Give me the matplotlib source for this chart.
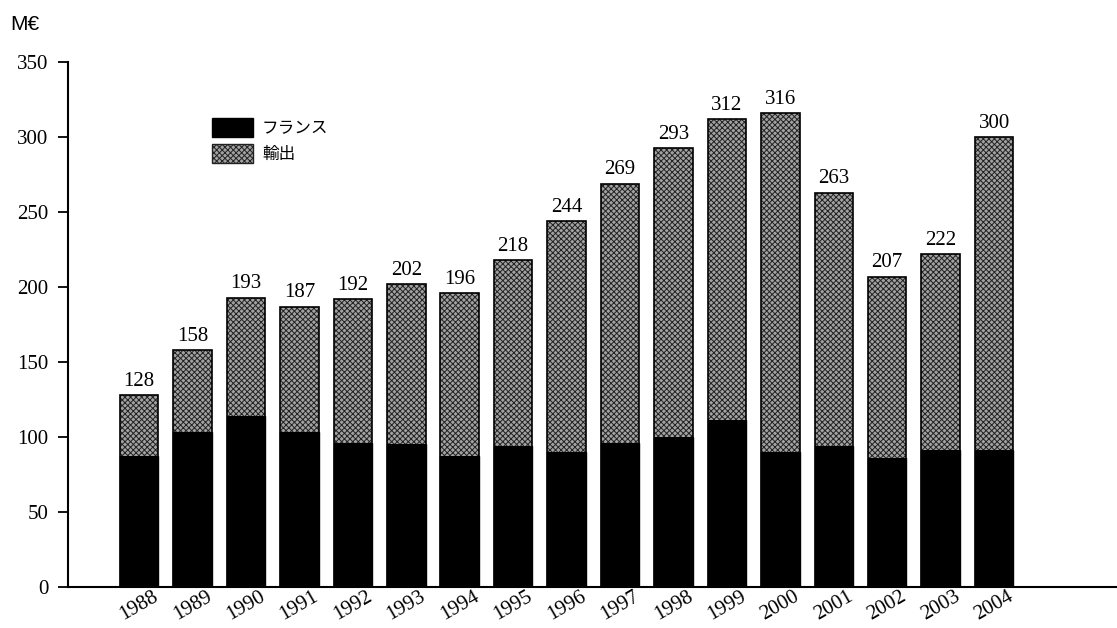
import matplotlib
matplotlib.use("Agg")
import matplotlib.pyplot as plt
from matplotlib.patches import Patch
import matplotlib.transforms as mtransforms
import numpy as np

years = ["1988", "1989", "1990", "1991", "1992", "1993", "1994", "1995", "1996",
         "1997", "1998", "1999", "2000", "2001", "2002", "2003", "2004"]
totals = [128, 158, 193, 187, 192, 202, 196, 218, 244, 269, 293, 312, 316, 263, 207, 222, 300]
france = [87, 103, 114, 103, 96, 95, 87, 94, 90, 96, 100, 111, 90, 94, 86, 91, 91]
export = [t - f for t, f in zip(totals, france)]
yticks = [0, 50, 100, 150, 200, 250, 300, 350]
legend_labels = ["フランス", "輸出"]

plt.rcParams['font.family'] = ['Liberation Serif', 'Noto Sans CJK JP']
plt.rcParams['hatch.linewidth'] = 0.7
plt.rcParams['hatch.color'] = '#222222'

GRAY = '#a2a2a2'
HATCH = 'xxxxxx'

fig = plt.figure(figsize=(11.17, 6.28), dpi=100)
ax = fig.add_axes([68 / 1117, 1 - 586.7 / 628, 1 - 68 / 1117, (586.7 - 62.3) / 628])

x = np.arange(len(years))
w = 0.72
ax.bar(x, france, width=w, color='black', edgecolor='black', linewidth=1)
ax.bar(x, export, bottom=france, width=w, facecolor=GRAY, hatch=HATCH,
       edgecolor='#222222', linewidth=0)
ax.bar(x, totals, width=w, fill=False, edgecolor='black', linewidth=1.2)

for xi, t in zip(x, totals):
    ax.annotate(str(t), (xi, t), xytext=(0, 3), textcoords='offset points',
                ha='center', va='bottom', fontsize=15)

ax.set_ylim(0, 350)
ax.set_xlim(-1.33, 18.3)
ax.set_yticks(yticks)
ax.set_yticklabels([str(v) for v in yticks], fontsize=15)
ax.set_xticks(x)
ax.set_xticklabels(years, rotation=30, ha='center', va='top', fontsize=15)
offset = mtransforms.ScaledTranslation(13 / 100, 0, fig.dpi_scale_trans)
for lab in ax.get_xticklabels():
    lab.set_transform(lab.get_transform() + offset)
ax.tick_params(axis='x', length=0, pad=0.5)
ax.tick_params(axis='y', length=7, width=1.3, direction='out', pad=7)
ax.spines['top'].set_visible(False)
ax.spines['right'].set_visible(False)
ax.spines['left'].set_linewidth(1.5)
ax.spines['bottom'].set_linewidth(1.5)

handles = [Patch(facecolor='black', edgecolor='black'),
           Patch(facecolor=GRAY, hatch=HATCH, edgecolor='#222222')]
leg = ax.legend(handles, legend_labels, loc='upper left',
                bbox_to_anchor=((212 - 68) / 1049, (586.7 - 118) / 524.4),
                frameon=False, borderaxespad=0, borderpad=0,
                prop={'family': ['Noto Sans CJK JP'], 'size': 12},
                handlelength=2.45, handleheight=1.38, handletextpad=0.55,
                labelspacing=0.42)

fig.text(10 / 1117, 1 - 24 / 628, "M€", family=['Liberation Sans'], fontsize=15,
         ha='left', va='center')

fig.savefig("out.png", dpi=100)
